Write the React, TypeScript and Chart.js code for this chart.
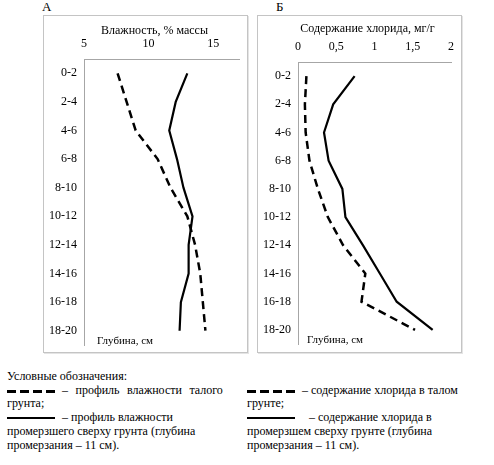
import React, { useEffect, useRef } from "react"
import { Chart, registerables, type ChartOptions, type Plugin } from "chart.js"

Chart.register(...registerables)

const SERIF = "\"Liberation Serif\", \"DejaVu Serif\", serif"

// depth intervals, cm (top to bottom)
const depthLabels = ["0-2", "2-4", "4-6", "6-8", "8-10", "10-12", "12-14", "14-16", "16-18", "18-20"]

// panel A: moisture, % of mass
const moistureThawed = [7.6, 8.3, 9.0, 10.7, 11.7, 13.0, 13.6, 14.0, 14.2, 14.4]
const moistureFrozen = [13.0, 12.1, 11.6, 12.2, 12.7, 13.4, 13.1, 13.1, 12.5, 12.4]

// panel B: chloride content, mg/g
const chlorideThawed = [0.11, 0.09, 0.1, 0.15, 0.26, 0.39, 0.59, 0.88, 0.83, 1.53]
const chlorideFrozen = [0.74, 0.46, 0.34, 0.4, 0.58, 0.62, 0.85, 1.07, 1.29, 1.76]

interface PanelProps {
  title: string
  thawed: number[]
  frozen: number[]
  min: number
  max: number
  step: number
  plotTop: number
  titleY: number
  tickPad: number
  rightPad: number
  bottomPad: number
  depthDx: number
}

const W = 203
const H = 336

function Panel(props: PanelProps) {
  const chartRef = useRef<HTMLCanvasElement>(null)
  const chartInstance = useRef<Chart | null>(null)

  useEffect(() => {
    if (!chartRef.current) return
    const ctx = chartRef.current.getContext("2d")
    if (!ctx) return

    if (chartInstance.current) {
      chartInstance.current.destroy()
    }

    // axis titles: value title above the ticks (a bit left of centre, like Excel),
    // "Глубина, см" inside the plot at the bottom left
    const axisTitles: Plugin<"line"> = {
      id: "axisTitles",
      afterDraw(chart) {
        const c = chart.ctx
        const area = chart.chartArea
        c.save()
        c.fillStyle = "#000"
        c.textBaseline = "middle"
        c.font = `12px ${SERIF}`
        c.textAlign = "center"
        c.fillText(props.title, (area.left + area.right) / 2 - 7, props.titleY)
        c.font = `11px ${SERIF}`
        c.textAlign = "left"
        c.fillText("Глубина, см", area.left + props.depthDx, area.bottom - 4)
        c.restore()
      },
    }

    const options: ChartOptions<"line"> = {
      indexAxis: "y",
      responsive: false,
      animation: false,
      layout: { padding: { top: 0, left: 0, right: props.rightPad, bottom: props.bottomPad } },
      scales: {
        x: {
          type: "linear",
          position: "top",
          min: props.min,
          max: props.max,
          grid: { display: false, drawTicks: false },
          border: { color: "#a6a6a6" },
          ticks: {
            stepSize: props.step,
            includeBounds: false,
            padding: props.tickPad,
            color: "#000",
            font: { family: SERIF, size: 12 },
            callback: (v) => String(v).replace(".", ","),
          },
          afterFit: (s) => {
            s.height = props.plotTop
            s.paddingLeft = 0
            s.paddingRight = 0
          },
        },
        y: {
          type: "category",
          position: "left",
          offset: true,
          grid: { display: false, drawTicks: false },
          border: { color: "#a6a6a6" },
          ticks: {
            padding: 7,
            color: "#000",
            font: { family: SERIF, size: 12 },
          },
          afterFit: (s) => {
            s.width = 40
            s.paddingTop = 0
            s.paddingBottom = 0
          },
        },
      },
      plugins: {
        legend: { display: false },
        tooltip: { enabled: false },
      },
    }

    chartInstance.current = new Chart(ctx, {
      type: "line",
      data: {
        labels: depthLabels,
        datasets: [
          {
            data: props.thawed,
            borderColor: "#000",
            borderWidth: 2.5,
            borderDash: [8, 5],
            pointRadius: 0,
            tension: 0,
          },
          {
            data: props.frozen,
            borderColor: "#000",
            borderWidth: 2.2,
            pointRadius: 0,
            tension: 0,
          },
        ],
      },
      options,
      plugins: [axisTitles],
    })

    return () => {
      if (chartInstance.current) {
        chartInstance.current.destroy()
        chartInstance.current = null
      }
    }
  }, [props])

  return <canvas ref={chartRef} width={W} height={H} style={{ width: W, height: H, display: "block" }} />
}

const boxStyle: React.CSSProperties = {
  position: "absolute",
  top: 15,
  width: W,
  height: H,
  border: "1px solid #c4c4c4",
  boxShadow: "1px 1px 0 #e4e4e4",
}

function Dashes() {
  return (
    <span style={{ display: "inline-block", width: 48, verticalAlign: "middle", lineHeight: 0 }}>
      {[0, 1, 2, 3].map((i) => (
        <span
          key={i}
          style={{
            display: "inline-block",
            width: 9,
            height: 3,
            background: "#000",
            marginRight: i < 3 ? 4 : 0,
          }}
        />
      ))}
    </span>
  )
}

function Solid() {
  return <span style={{ display: "inline-block", width: 48, height: 2, background: "#000", verticalAlign: "middle" }} />
}

const textStyle: React.CSSProperties = {
  position: "absolute",
  top: 370,
  fontFamily: SERIF,
  fontSize: 12,
  lineHeight: "13.7px",
  color: "#000",
  whiteSpace: "nowrap",
}

const panelA: PanelProps = {
  title: "Влажность, % массы",
  thawed: moistureThawed,
  frozen: moistureFrozen,
  min: 5,
  max: 17,
  step: 5,
  plotTop: 43,
  titleY: 14.7,
  tickPad: 8,
  rightPad: 8,
  bottomPad: 7,
  depthDx: 13,
}

const panelB: PanelProps = {
  title: "Содержание хлорида, мг/г",
  thawed: chlorideThawed,
  frozen: chlorideFrozen,
  min: 0,
  max: 2,
  step: 0.5,
  plotTop: 46,
  titleY: 13.3,
  tickPad: 8,
  rightPad: 10,
  bottomPad: 8,
  depthDx: 9,
}

export default function App() {
  return (
    <div style={{ position: "absolute", left: 0, top: 0, width: 494, height: 465, background: "#fff" }}>
      <div style={{ position: "absolute", left: 42, top: -1, fontFamily: SERIF, fontSize: 13 }}>А</div>
      <div style={{ position: "absolute", left: 276, top: -1, fontFamily: SERIF, fontSize: 13 }}>Б</div>
      <div style={{ ...boxStyle, left: 43 }}>
        <Panel {...panelA} />
      </div>
      <div style={{ ...boxStyle, left: 257 }}>
        <Panel {...panelB} />
      </div>
      <div style={{ ...textStyle, left: 7 }}>
        Условные обозначения:
        <br />
        <Dashes />
        <span style={{ marginLeft: 7, wordSpacing: 4.5 }}>– профиль влажности талого</span>
        <br />
        грунта;
        <br />
        <Solid />
        <span style={{ marginLeft: 7 }}>– профиль влажности</span>
        <br />
        промерзшего сверху грунта (глубина
        <br />
        промерзания – 11 см).
      </div>
      <div style={{ ...textStyle, left: 247 }}>
        <br />
        <Dashes />
        <span style={{ marginLeft: 7 }}>– содержание хлорида в талом</span>
        <br />
        грунте;
        <br />
        <Solid />
        <span style={{ marginLeft: 14 }}>– содержание хлорида в</span>
        <br />
        промерзшем сверху грунте (глубина
        <br />
        промерзания – 11 см).
      </div>
    </div>
  )
}
